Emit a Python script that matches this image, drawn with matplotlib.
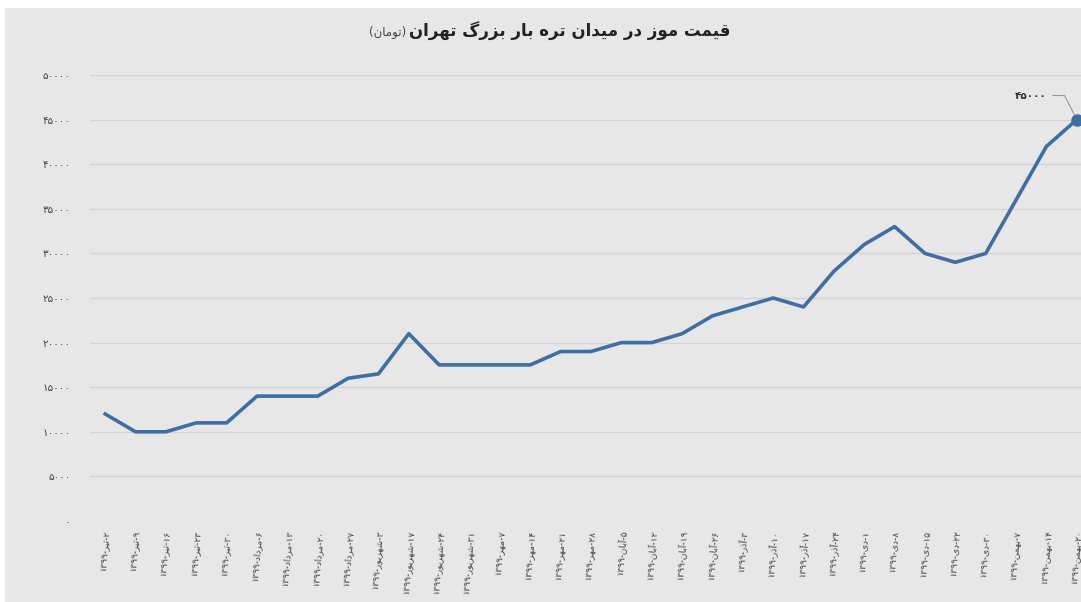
import matplotlib
matplotlib.use("Agg")
import matplotlib.pyplot as plt
from matplotlib.patches import Rectangle

# ---- data ----
DAYS = [2, 9, 16, 23, 30, 6, 13, 20, 27, 3, 17, 24, 31, 7, 14, 21, 28,
        5, 12, 19, 26, 3, 10, 17, 24, 1, 8, 15, 22, 30, 7, 14, 20]
MONTHS = (["تیر"] * 5 + ["مرداد"] * 4 + ["شهریور"] * 4 + ["مهر"] * 4 +
          ["آبان"] * 4 + ["آذر"] * 4 + ["دی"] * 5 + ["بهمن"] * 3)
YEAR = 1399
PRICES = [12000, 10000, 10000, 11000, 11000, 14000, 14000, 14000, 16000,
          16500, 21000, 17500, 17500, 17500, 17500, 19000, 19000, 20000,
          20000, 21000, 23000, 24000, 25000, 24000, 28000, 31000, 33000,
          30000, 29000, 30000, 36000, 42000, 45000]
YTICKS = [0, 5000, 10000, 15000, 20000, 25000, 30000, 35000, 40000, 45000, 50000]

TITLE = "قیمت موز در میدان تره بار بزرگ تهران"
UNIT = "تومان"

# ---- minimal Persian shaping (matplotlib has no bidi / joining) ----
FORMS = {
    "ا": (0xFE8D, 0xFE8E), "آ": (0xFE81, 0xFE82),
    "د": (0xFEA9, 0xFEAA), "ذ": (0xFEAB, 0xFEAC),
    "ر": (0xFEAD, 0xFEAE), "ز": (0xFEAF, 0xFEB0),
    "و": (0xFEED, 0xFEEE),
    "ب": (0xFE8F, 0xFE90, 0xFE91, 0xFE92), "ت": (0xFE95, 0xFE96, 0xFE97, 0xFE98),
    "ش": (0xFEB5, 0xFEB6, 0xFEB7, 0xFEB8), "ق": (0xFED5, 0xFED6, 0xFED7, 0xFED8),
    "م": (0xFEE1, 0xFEE2, 0xFEE3, 0xFEE4), "ن": (0xFEE5, 0xFEE6, 0xFEE7, 0xFEE8),
    "ه": (0xFEE9, 0xFEEA, 0xFEEB, 0xFEEC), "ی": (0xFBFC, 0xFBFD, 0xFBFE, 0xFBFF),
    "گ": (0xFB92, 0xFB93, 0xFB94, 0xFB95),
}
PDIG = str.maketrans("0123456789", "۰۱۲۳۴۵۶۷۸۹")


def shape_word(w):
    out = []
    for i, ch in enumerate(w):
        f = FORMS.get(ch)
        if f is None:
            out.append(ch)
            continue
        prev = FORMS.get(w[i - 1]) if i > 0 else None
        nxt = FORMS.get(w[i + 1]) if i + 1 < len(w) else None
        join_prev = prev is not None and len(prev) == 4
        join_next = len(f) == 4 and nxt is not None
        if join_prev and join_next:
            out.append(chr(f[3]))
        elif join_prev:
            out.append(chr(f[1]))
        elif join_next:
            out.append(chr(f[2]))
        else:
            out.append(chr(f[0]))
    return "".join(out)[::-1]


def fa(text):
    # visual order for an all-Persian phrase
    return " ".join(shape_word(w) for w in text.split(" ")[::-1])


def fa_num(n):
    return str(n).translate(PDIG)


labels = [f"{fa_num(YEAR)}-{fa(m)}-{fa_num(d)}" for d, m in zip(DAYS, MONTHS)]
x = list(range(len(PRICES)))

plt.rcParams["font.family"] = ["DejaVu Sans"]
BG = "#e7e7e7"
LINE = "#3d6fa3"

fig = plt.figure(figsize=(10.81, 6.02), dpi=100, facecolor="white")
fig.patches.append(Rectangle((5 / 1081, 0), 1, 1 - 8 / 602, transform=fig.transFigure,
                             facecolor=BG, edgecolor="none", zorder=-10))

ax = fig.add_axes([90 / 1081, 81 / 602, 1002 / 1081, 446 / 602])
ax.set_facecolor(BG)
ax.plot(x, PRICES, color=LINE, linewidth=2.6, solid_joinstyle="round", zorder=3)
ax.plot(x[-1], PRICES[-1], "o", color=LINE, markersize=8, zorder=4)

ax.set_xlim(-0.5, len(PRICES) - 0.5)
ax.set_ylim(0, 50000)
ax.set_yticks(YTICKS)
ax.set_yticklabels([fa_num(v) for v in YTICKS], fontsize=7.5, color="#444444")
ax.set_xticks(x)
ax.set_xticklabels(labels, rotation=85, fontsize=6.5, color="#444444",
                   ha="center", va="top")
ax.tick_params(axis="both", length=0)
ax.tick_params(axis="y", pad=14)
ax.tick_params(axis="x", pad=6)
ax.grid(axis="y", color="#d2d2d2", linewidth=0.9)
ax.set_axisbelow(True)
for s in ax.spines.values():
    s.set_visible(False)

ax.annotate(fa_num(PRICES[-1]), xy=(x[-1], PRICES[-1]),
            xytext=(x[-1] - 1.5, PRICES[-1] + 2700),
            fontsize=7.5, fontweight="bold", color="#333333", ha="center", va="center",
            arrowprops=dict(arrowstyle="-", color="#999999", lw=0.8,
                            shrinkA=2, shrinkB=4,
                            connectionstyle="angle,angleA=0,angleB=117,rad=0"))

fig.text(409 / 1081, 1 - 31 / 602, fa(TITLE), fontsize=12, fontweight="bold",
         color="#222222", ha="left", va="center")
fig.text(406 / 1081, 1 - 32 / 602, "(" + fa(UNIT) + ")", fontsize=8.5,
         color="#444444", ha="right", va="center")

fig.savefig("out.png", dpi=100, facecolor=fig.get_facecolor())
